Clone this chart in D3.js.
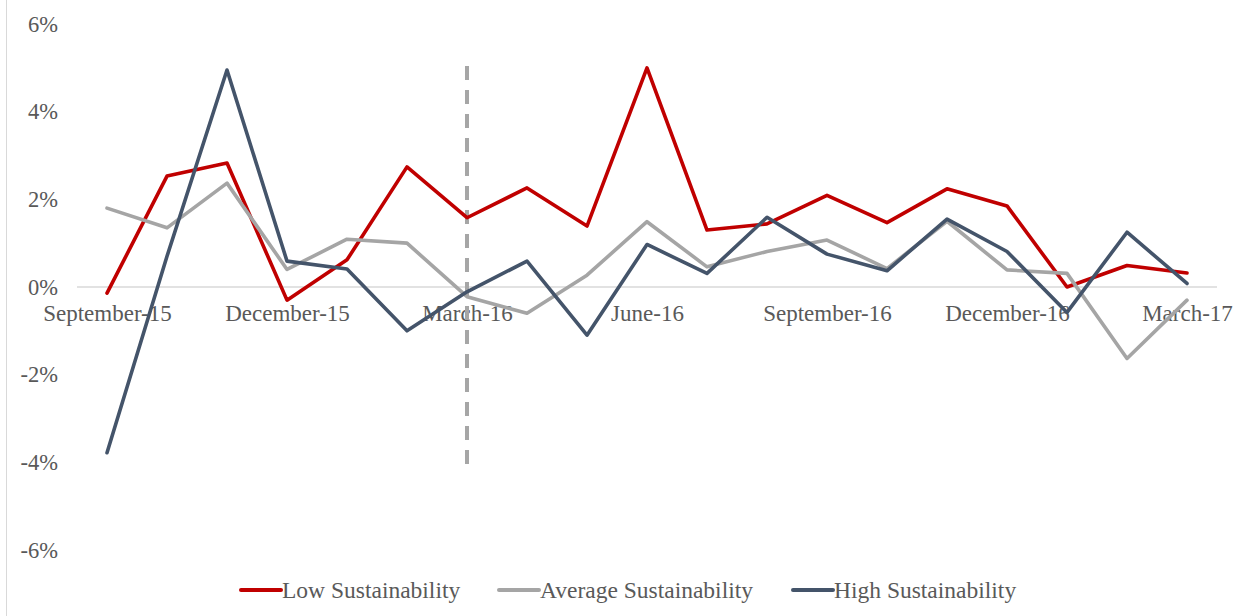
<!DOCTYPE html>
<html><head><meta charset="utf-8">
<script src="https://cdn.jsdelivr.net/npm/d3@7"></script>
</head><body style="margin:0;background:#fff"><svg id="c" width="1242" height="616"></svg>
<script>
const months = ["September-15","October-15","November-15","December-15","January-16","February-16","March-16","April-16","May-16","June-16","July-16","August-16","September-16","October-16","November-16","December-16","January-17","February-17","March-17"];
const lowSust = [-0.14,2.53,2.83,-0.30,0.62,2.74,1.58,2.26,1.39,5.00,1.30,1.44,2.09,1.47,2.24,1.85,0.00,0.49,0.32];
const avgSust = [1.80,1.35,2.37,0.40,1.09,1.00,-0.22,-0.60,0.27,1.49,0.46,0.81,1.07,0.42,1.50,0.39,0.31,-1.63,-0.30];
const highSust = [-3.78,0.70,4.95,0.59,0.41,-1.00,-0.11,0.59,-1.10,0.97,0.31,1.59,0.75,0.37,1.55,0.81,-0.58,1.25,0.08];
const yTicks = [-6,-4,-2,0,2,4,6];
const xTickLabels = ["September-15","December-15","March-16","June-16","September-16","December-16","March-17"];
const markerMonth = "March-16";
const seriesNames = ["Low Sustainability","Average Sustainability","High Sustainability"];
const seriesColors = ["#C00000","#A5A5A5","#44546A"];

const FONT = "Liberation Serif";
const svg = d3.select("#c");
const x = d3.scalePoint().domain(months).range([107,1187]);
const y = d3.scaleLinear().domain([-6,6]).range([550,24]);
const txt = "#595959";

svg.append("line").attr("x1",6.5).attr("x2",6.5).attr("y1",0).attr("y2",616).attr("stroke","#D9D9D9").attr("stroke-width",1);
svg.append("line").attr("x1",77).attr("x2",1217).attr("y1",y(0)).attr("y2",y(0)).attr("stroke","#D9D9D9").attr("stroke-width",1.3);

const ya = svg.append("g").attr("transform","translate(58,0)").call(d3.axisLeft(y).tickValues(yTicks).tickSize(0).tickPadding(0).tickFormat(d=>d+"%"));
ya.select(".domain").remove();
ya.selectAll("text").style("font-family",FONT).style("font-size","22.5px").attr("fill",txt);

const xa = svg.append("g").attr("transform",`translate(0,${y(0)})`).call(d3.axisBottom(x).tickValues(xTickLabels).tickSize(0).tickPadding(0));
xa.select(".domain").remove();
xa.selectAll("text").attr("y",18).attr("dy","0.71em").style("font-family",FONT).style("font-size","23px").attr("fill",txt);

svg.append("line").attr("x1",x(markerMonth)).attr("x2",x(markerMonth)).attr("y1",66).attr("y2",473)
  .attr("stroke","#A6A6A6").attr("stroke-width",4).attr("stroke-dasharray","14,10");

const line = d3.line().x((d,i)=>x(months[i])).y(d=>y(d));
[lowSust,avgSust,highSust].forEach((s,k)=>{
  svg.append("path").datum(s).attr("d",line).attr("fill","none").attr("stroke",seriesColors[k])
    .attr("stroke-width",3.6).attr("stroke-linejoin","round").attr("stroke-linecap","round");
});

const legX = [241,499,793];
seriesNames.forEach((n,k)=>{
  svg.append("line").attr("x1",legX[k]).attr("x2",legX[k]+40).attr("y1",590).attr("y2",590)
    .attr("stroke",seriesColors[k]).attr("stroke-width",4).attr("stroke-linecap","round");
  svg.append("text").attr("x",legX[k]+41).attr("y",590).attr("dy","0.35em").style("font-family",FONT).style("font-size","23.5px").attr("fill",txt).text(n);
});
</script></body></html>
